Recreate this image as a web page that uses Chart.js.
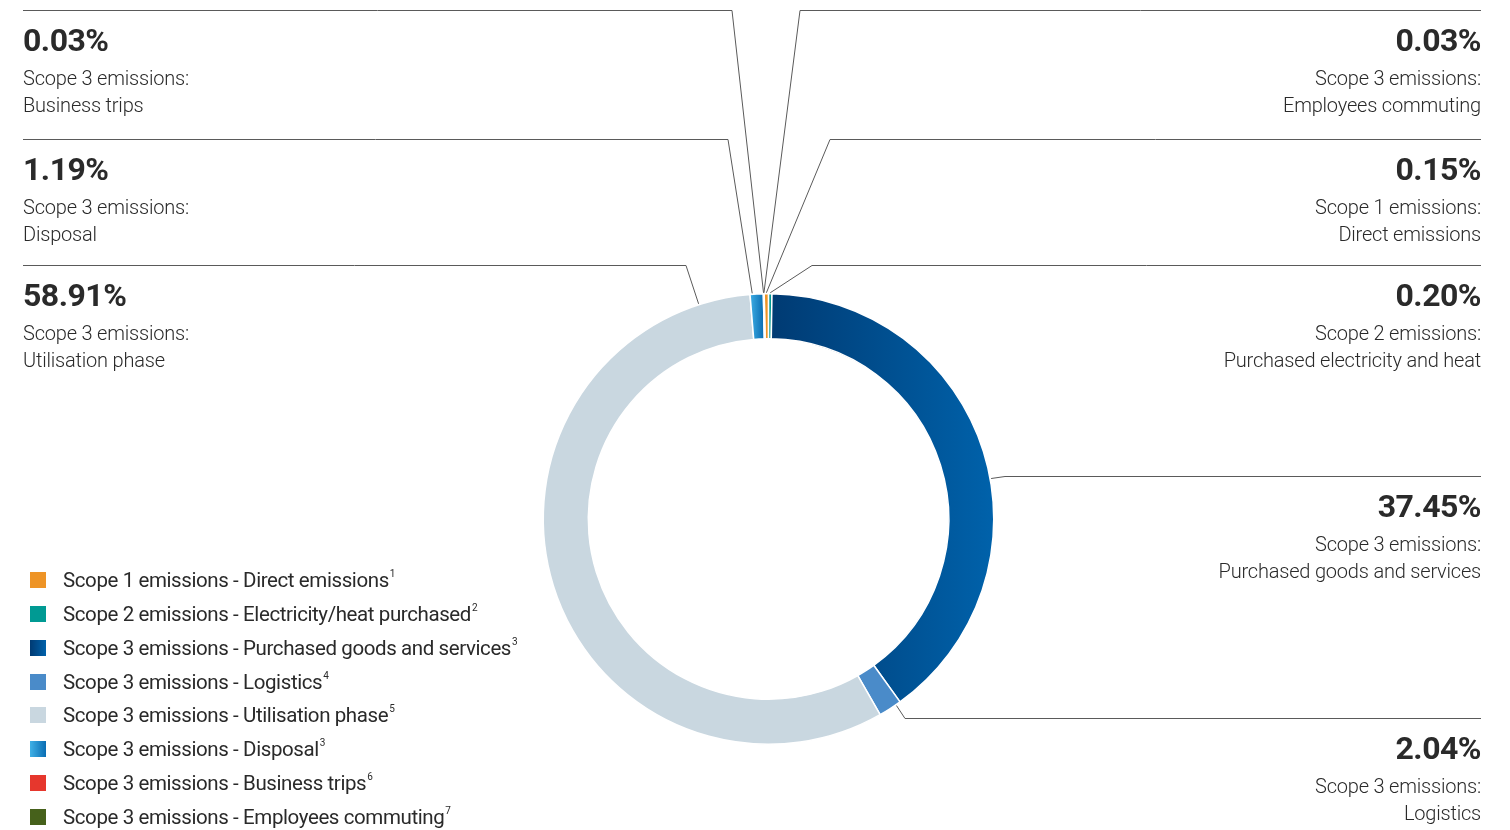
<!DOCTYPE html>
<html>
<head>
<meta charset="utf-8">
<script src="https://cdn.jsdelivr.net/npm/chart.js@4.4.0/dist/chart.umd.min.js"></script>
<style>
  html, body { margin: 0; padding: 0; background: #fff; }
  body { width: 1510px; height: 830px; position: relative; overflow: hidden; font-family: Roboto, "Noto Sans", sans-serif; color: #2a2a2a; }
  #chart { position: absolute; left: 0; top: 0; }
  .lbl { position: absolute; width: 460px; }
  .lbl.l { left: 23px; text-align: left; }
  .lbl.r { right: 29px; text-align: right; }
  .pct { font-weight: 700; font-size: 32px; line-height: 36px; letter-spacing: -0.5px; }
  .desc { font-weight: 300; font-size: 20px; line-height: 27px; margin-top: 7px; letter-spacing: -0.2px; }
  #legend { position: absolute; left: 30px; top: 563px; }
  .li { height: 33.86px; display: flex; align-items: center; font-size: 20.5px; font-weight: 400; letter-spacing: -0.4px; }
  .sw { width: 16px; height: 16px; margin-right: 17px; flex: none; }
  .li sup { font-size: 10px; position: relative; top: 0px; vertical-align: top; margin-left: 1px; }
</style>
</head>
<body>
<canvas id="chart" width="1510" height="830"></canvas>
<div id="labels"></div>
<div id="legend"></div>
<script>
// data
const legendNames = [
  'Scope 1 emissions - Direct emissions',
  'Scope 2 emissions - Electricity/heat purchased',
  'Scope 3 emissions - Purchased goods and services',
  'Scope 3 emissions - Logistics',
  'Scope 3 emissions - Utilisation phase',
  'Scope 3 emissions - Disposal',
  'Scope 3 emissions - Business trips',
  'Scope 3 emissions - Employees commuting'
];
const footnotes = ['1', '2', '3', '4', '5', '3', '6', '7'];
// shares as printed in the callouts
const shares = [0.15, 0.20, 37.45, 2.04, 58.91, 1.19, 0.03, 0.03];
// slice sizes as drawn in the ring (in %)
const arcShares = [0.31, 0.24, 39.8, 1.67, 56.9, 0.94, 0.03, 0.03];
const calloutScope = ['Scope 1 emissions:', 'Scope 2 emissions:', 'Scope 3 emissions:', 'Scope 3 emissions:',
  'Scope 3 emissions:', 'Scope 3 emissions:', 'Scope 3 emissions:', 'Scope 3 emissions:'];
const calloutNames = ['Direct emissions', 'Purchased electricity and heat', 'Purchased goods and services',
  'Logistics', 'Utilisation phase', 'Disposal', 'Business trips', 'Employees commuting'];

// styles
const colors = ['#ee9426', '#009a93', '#00508f', '#4a8bc9', '#c9d7e0', '#2496d4', '#e6372d', '#46611b'];
const swatchCss = [null, null, 'linear-gradient(90deg,#003a72,#0062ab)', null, null, 'linear-gradient(90deg,#3fb0e6,#0a6db3)', null, null];

// callout layout: side, y of the rule, x of the elbow
const callouts = [
  { side: 'r', y: 139, ex: 830 },
  { side: 'r', y: 265, ex: 812 },
  { side: 'r', y: 476, ex: 1005 },
  { side: 'r', y: 718, ex: 905 },
  { side: 'l', y: 265, ex: 686 },
  { side: 'l', y: 139, ex: 728 },
  { side: 'l', y: 10, ex: 732 },
  { side: 'r', y: 10, ex: 800 }
];
const RULE_L = 23, RULE_R = 1481;

function fillFor(c) {
  const i = c.dataIndex;
  const area = c.chart.chartArea;
  if (!area) return colors[i];
  const cx = (area.left + area.right) / 2;
  const g2 = c.chart.ctx;
  if (i === 2) {
    const g = g2.createLinearGradient(cx, 0, area.right, 0);
    g.addColorStop(0, '#003a72');
    g.addColorStop(1, '#0062ab');
    return g;
  }
  if (i === 5) {
    const g = g2.createLinearGradient(cx - 19, 0, cx - 5, 0);
    g.addColorStop(0, '#3fb0e6');
    g.addColorStop(1, '#0a6db3');
    return g;
  }
  return colors[i];
}

const leaderLines = {
  id: 'leaderLines',
  afterDatasetsDraw(chart) {
    const ctx = chart.ctx;
    const arcs = chart.getDatasetMeta(0).data;
    ctx.save();
    ctx.strokeStyle = '#5a5a5a';
    ctx.lineWidth = 1;
    arcs.forEach((arc, i) => {
      const co = callouts[i];
      const p = arc.getProps(['x', 'y', 'startAngle', 'endAngle', 'outerRadius'], true);
      let a = Math.atan2(co.y - p.y, co.ex - p.x);
      while (a < p.startAngle) a += Math.PI * 2;
      while (a >= p.startAngle + Math.PI * 2) a -= Math.PI * 2;
      if (p.endAngle - p.startAngle < 0.05) {
        a = (p.startAngle + p.endAngle) / 2;
      } else if (a > p.endAngle) {
        const dEnd = a - p.endAngle;
        const dStart = p.startAngle + Math.PI * 2 - a;
        a = dEnd < dStart ? p.endAngle - 0.01 : p.startAngle + 0.01;
      }
      const r = p.outerRadius + 1;
      const ax = p.x + Math.cos(a) * r;
      const ay = p.y + Math.sin(a) * r;
      ctx.beginPath();
      ctx.moveTo(co.side === 'l' ? RULE_L : RULE_R, co.y + 0.5);
      ctx.lineTo(co.ex, co.y + 0.5);
      ctx.lineTo(ax, ay);
      ctx.stroke();
    });
    ctx.restore();
  }
};

new Chart(document.getElementById('chart'), {
  type: 'doughnut',
  data: {
    labels: legendNames,
    datasets: [{
      data: arcShares,
      backgroundColor: fillFor,
      borderColor: '#ffffff',
      borderWidth: 1.5,
      hoverOffset: 0
    }]
  },
  options: {
    responsive: false,
    animation: false,
    cutout: '80%',
    rotation: -1.1,
    layout: { padding: { top: 293, bottom: 85, left: 542, right: 515 } },
    plugins: { legend: { display: false }, tooltip: { enabled: false } }
  },
  plugins: [leaderLines]
});

// callout texts
const labelsEl = document.getElementById('labels');
shares.forEach((v, i) => {
  const co = callouts[i];
  const d = document.createElement('div');
  d.className = 'lbl ' + co.side;
  d.style.top = (co.y + 12) + 'px';
  d.innerHTML = `<div class="pct">${v.toFixed(2)}%</div>
    <div class="desc">${calloutScope[i]}<br>${calloutNames[i]}</div>`;
  labelsEl.appendChild(d);
});

// legend
const legendEl = document.getElementById('legend');
legendNames.forEach((name, i) => {
  const row = document.createElement('div');
  row.className = 'li';
  const bg = swatchCss[i] || colors[i];
  row.innerHTML = `<span class="sw" style="background:${bg}"></span><span>${name}<sup>${footnotes[i]}</sup></span>`;
  legendEl.appendChild(row);
});
</script>
</body>
</html>
